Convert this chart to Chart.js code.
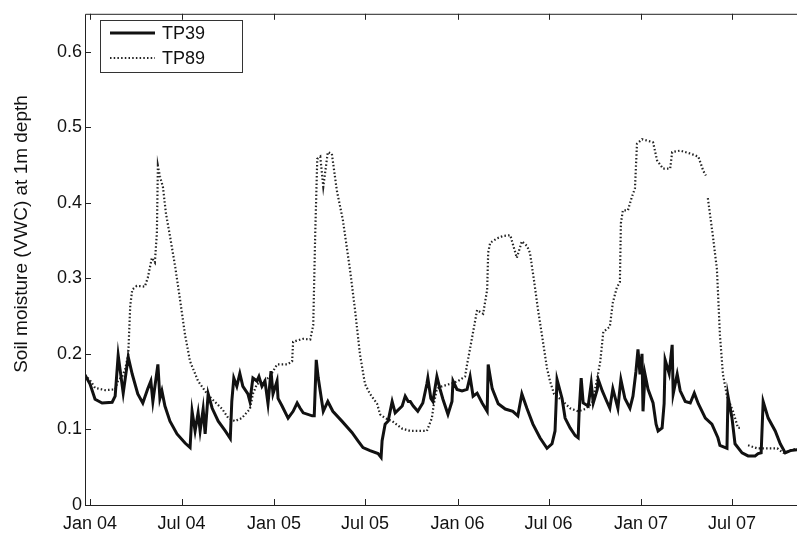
<!DOCTYPE html>
<html>
<head>
<meta charset="utf-8">
<script src="https://cdn.jsdelivr.net/npm/chart.js@4"></script>
<style>
  html, body { margin: 0; padding: 0; background: #fff; overflow: hidden; }
  #wrap { position: absolute; left: 0; top: 0; width: 830px; height: 534px; }
</style>
</head>
<body>
<div id="wrap"><canvas id="soilChart"></canvas></div>
<script>
// x values are days counted from 1 Jan 2004
const tickDays = [0, 182, 366, 547, 731, 912, 1096, 1277];
const tickLabels = ['Jan 04', 'Jul 04', 'Jan 05', 'Jul 05', 'Jan 06', 'Jul 06', 'Jan 07', 'Jul 07'];
const yTicks = [0, 0.1, 0.2, 0.3, 0.4, 0.5, 0.6];

const tp39Days = [-10, 0, 10, 24, 44, 50, 56, 66, 76, 84, 95, 105, 115, 121, 125, 135, 139, 143, 149, 159,
  173, 189, 199, 203, 209, 215, 219, 225, 229, 235, 243, 255, 269, 279, 282, 286, 292, 298, 304, 314,
  318, 324, 332, 336, 342, 348, 354, 360, 364, 372, 374, 382, 394, 404, 412, 418, 424, 442, 446, 450,
  454, 464, 473, 483, 501, 521, 533, 543, 557, 573, 579, 581, 587, 593, 601, 607, 621, 627, 633, 637,
  643, 652, 662, 670, 672, 678, 682, 690, 696, 702, 712, 720, 722, 730, 740, 750, 756, 762, 770, 780,
  790, 792, 800, 812, 826, 841, 851, 859, 869, 881, 895, 909, 919, 925, 929, 939, 945, 955, 965, 971,
  973, 977, 981, 991, 997, 1001, 1009, 1011, 1019, 1028, 1034, 1040, 1050, 1056, 1064, 1074, 1080, 1086, 1090, 1094,
  1098, 1100, 1104, 1110, 1120, 1126, 1130, 1138, 1142, 1144, 1152, 1158, 1160, 1168, 1174, 1184, 1194, 1202, 1210, 1224,
  1237, 1249, 1253, 1267, 1269, 1277, 1283, 1297, 1309, 1323, 1329, 1335, 1339, 1349, 1363, 1373, 1383, 1393, 1406, 1430, 1464];
const tp39Vals = [0.172, 0.160, 0.140, 0.135, 0.136, 0.144, 0.198, 0.148, 0.196, 0.173, 0.147, 0.135, 0.154, 0.164, 0.137, 0.186, 0.141, 0.151, 0.131, 0.111,
  0.094, 0.082, 0.076, 0.124, 0.098, 0.122, 0.098, 0.127, 0.094, 0.147, 0.128, 0.111, 0.098, 0.088, 0.137, 0.168, 0.157, 0.174, 0.157, 0.147,
  0.137, 0.168, 0.164, 0.170, 0.157, 0.164, 0.134, 0.177, 0.147, 0.164, 0.141, 0.131, 0.115, 0.124, 0.135, 0.128, 0.122, 0.118, 0.118, 0.192,
  0.168, 0.124, 0.137, 0.124, 0.111, 0.096, 0.085, 0.076, 0.072, 0.068, 0.063, 0.085, 0.107, 0.111, 0.137, 0.122, 0.131, 0.144, 0.137, 0.137,
  0.131, 0.124, 0.135, 0.160, 0.168, 0.141, 0.137, 0.170, 0.154, 0.140, 0.120, 0.137, 0.164, 0.153, 0.151, 0.153, 0.170, 0.144, 0.148, 0.135,
  0.124, 0.186, 0.154, 0.134, 0.127, 0.124, 0.118, 0.147, 0.128, 0.107, 0.089, 0.075, 0.081, 0.098, 0.166, 0.141, 0.115, 0.102, 0.092, 0.089,
  0.124, 0.168, 0.135, 0.131, 0.161, 0.135, 0.153, 0.166, 0.151, 0.137, 0.128, 0.154, 0.128, 0.166, 0.141, 0.128, 0.144, 0.177, 0.206, 0.173,
  0.200, 0.124, 0.173, 0.153, 0.135, 0.107, 0.098, 0.102, 0.134, 0.192, 0.174, 0.212, 0.147, 0.173, 0.151, 0.137, 0.135, 0.148, 0.134, 0.115,
  0.107, 0.089, 0.079, 0.075, 0.144, 0.115, 0.081, 0.069, 0.065, 0.065, 0.068, 0.069, 0.137, 0.115, 0.098, 0.081, 0.069, 0.072, 0.073, 0.073, 0.072];

const tp89Days = [-10, 0, 10, 30, 50, 56, 64, 70, 76, 80, 84, 93, 109, 115, 123, 129, 133, 135, 139, 145,
  151, 159, 169, 179, 189, 199, 215, 233, 243, 263, 275, 288, 302, 318, 324, 332, 348, 358, 372, 392,
  402, 404, 424, 438, 444, 448, 452, 458, 464, 473, 481, 491, 503, 517, 527, 537, 547, 557, 571, 577,
  587, 601, 621, 637, 670, 680, 684, 690, 700, 720, 732, 746, 750, 756, 762, 770, 782, 790, 792, 796,
  810, 822, 836, 849, 859, 869, 875, 883, 891, 901, 909, 915, 923, 941, 955, 971, 985, 999, 1009, 1015,
  1021, 1034, 1040, 1048, 1054, 1056, 1060, 1070, 1078, 1084, 1088, 1098, 1120, 1128, 1140, 1154, 1158, 1174, 1194, 1210,
  1220, 1225, 1227, 1229, 1239, 1247, 1253, 1259, 1267, 1279, 1289, 1293, 1300, 1309, 1327, 1367, 1379, 1406, 1430, 1464];
const tp89Vals = [0.172, 0.165, 0.155, 0.152, 0.153, 0.165, 0.170, 0.180, 0.199, 0.264, 0.285, 0.290, 0.289, 0.301, 0.327, 0.321, 0.360, 0.449, 0.435, 0.421,
  0.386, 0.356, 0.317, 0.272, 0.225, 0.190, 0.164, 0.147, 0.140, 0.127, 0.115, 0.111, 0.115, 0.127, 0.147, 0.160, 0.165, 0.170, 0.186, 0.186,
  0.190, 0.216, 0.220, 0.219, 0.238, 0.360, 0.458, 0.461, 0.421, 0.467, 0.465, 0.416, 0.377, 0.312, 0.259, 0.199, 0.160, 0.147, 0.134, 0.120,
  0.115, 0.111, 0.101, 0.098, 0.098, 0.115, 0.134, 0.154, 0.157, 0.161, 0.164, 0.170, 0.186, 0.207, 0.229, 0.258, 0.253, 0.285, 0.334, 0.347,
  0.353, 0.356, 0.357, 0.327, 0.349, 0.343, 0.334, 0.298, 0.259, 0.216, 0.181, 0.164, 0.147, 0.137, 0.128, 0.124, 0.127, 0.135, 0.168, 0.190,
  0.229, 0.236, 0.268, 0.288, 0.295, 0.373, 0.390, 0.390, 0.408, 0.419, 0.478, 0.484, 0.480, 0.456, 0.445, 0.445, 0.467, 0.469, 0.465, 0.461,
  0.442, 0.436, null, 0.406, 0.356, 0.312, 0.225, 0.173, 0.144, 0.124, 0.102, 0.102, null, 0.079, 0.075, 0.075, 0.069, 0.075, 0.074, 0.074];

const toPoints = (days, vals) => days.map((d, i) => ({ x: d, y: vals[i] }));

const FONT = '"Liberation Sans", Arial, Helvetica, sans-serif';

// matlab-like box, inward ticks, legend and y title
const matlabFrame = {
  id: 'matlabFrame',
  afterDraw(chart) {
    const ctx = chart.ctx;
    const a = chart.chartArea;
    const xs = chart.scales.x;
    const ys = chart.scales.y;
    ctx.save();
    ctx.strokeStyle = '#222';
    ctx.lineWidth = 1;
    ctx.beginPath();
    ctx.moveTo(a.right + 5, a.top + 0.5);
    ctx.lineTo(a.left + 0.5, a.top + 0.5);
    ctx.lineTo(a.left + 0.5, a.bottom + 0.5);
    ctx.lineTo(a.right + 5, a.bottom + 0.5);
    tickDays.forEach(d => {
      const px = Math.round(xs.getPixelForValue(d)) + 0.5;
      ctx.moveTo(px, a.bottom);
      ctx.lineTo(px, a.bottom - 6);
      ctx.moveTo(px, a.top);
      ctx.lineTo(px, a.top + 6);
    });
    yTicks.forEach(v => {
      const py = Math.round(ys.getPixelForValue(v)) + 0.5;
      ctx.moveTo(a.left, py);
      ctx.lineTo(a.left + 6, py);
    });
    ctx.stroke();

    // legend
    ctx.fillStyle = '#fff';
    ctx.fillRect(100, 20, 142, 52);
    ctx.strokeStyle = '#333';
    ctx.strokeRect(100.5, 20.5, 142, 52);
    const rows = [33, 58];
    chart.data.datasets.forEach((ds, i) => {
      ctx.beginPath();
      ctx.strokeStyle = ds.borderColor;
      ctx.lineWidth = ds.borderWidth;
      ctx.setLineDash(ds.borderDash || []);
      ctx.moveTo(110, rows[i]);
      ctx.lineTo(155, rows[i]);
      ctx.stroke();
      ctx.setLineDash([]);
      ctx.fillStyle = '#111';
      ctx.font = '18px ' + FONT;
      ctx.textBaseline = 'middle';
      ctx.fillText(ds.label, 162, rows[i] + 1);
    });

    // y axis title
    ctx.translate(22, 234);
    ctx.rotate(-Math.PI / 2);
    ctx.textAlign = 'center';
    ctx.textBaseline = 'middle';
    ctx.font = '19px ' + FONT;
    ctx.fillStyle = '#111';
    ctx.fillText('Soil moisture (VWC) at 1m depth', 0, 0);
    ctx.restore();
  }
};

const ctx = document.getElementById('soilChart').getContext('2d');
new Chart(ctx, {
  type: 'line',
  data: {
    datasets: [
      {
        label: 'TP39',
        data: toPoints(tp39Days, tp39Vals),
        borderColor: '#111',
        borderWidth: 3,
        pointRadius: 0,
        tension: 0,
        fill: false
      },
      {
        label: 'TP89',
        data: toPoints(tp89Days, tp89Vals),
        borderColor: '#222',
        borderWidth: 2.2,
        borderDash: [1.5, 2.2],
        pointRadius: 0,
        tension: 0,
        spanGaps: false,
        fill: false
      }
    ]
  },
  options: {
    responsive: true,
    maintainAspectRatio: false,
    animation: false,
    layout: { padding: { top: 8, left: 0, right: 4, bottom: 0 } },
    plugins: {
      legend: { display: false },
      tooltip: { enabled: false }
    },
    scales: {
      x: {
        type: 'linear',
        min: -10,
        max: 1464,
        grid: { display: false, tickLength: 0 },
        border: { display: false },
        afterFit(scale) { scale.height = 29; },
        afterBuildTicks(scale) { scale.ticks = tickDays.map(v => ({ value: v })); },
        ticks: {
          autoSkip: false,
          maxRotation: 0,
          padding: 8,
          color: '#111',
          font: { family: FONT, size: 18 },
          callback: (v) => tickLabels[tickDays.indexOf(v)]
        }
      },
      y: {
        min: 0,
        max: 0.65,
        grid: { display: false, tickLength: 0 },
        border: { display: false },
        afterFit(scale) { scale.width = 85; },
        afterBuildTicks(scale) { scale.ticks = yTicks.map(v => ({ value: v })); },
        ticks: {
          padding: 3,
          color: '#111',
          font: { family: FONT, size: 18 },
          callback: (v) => (v === 0 ? '0' : v.toFixed(1))
        }
      }
    }
  },
  plugins: [matlabFrame]
});
</script>
</body>
</html>
